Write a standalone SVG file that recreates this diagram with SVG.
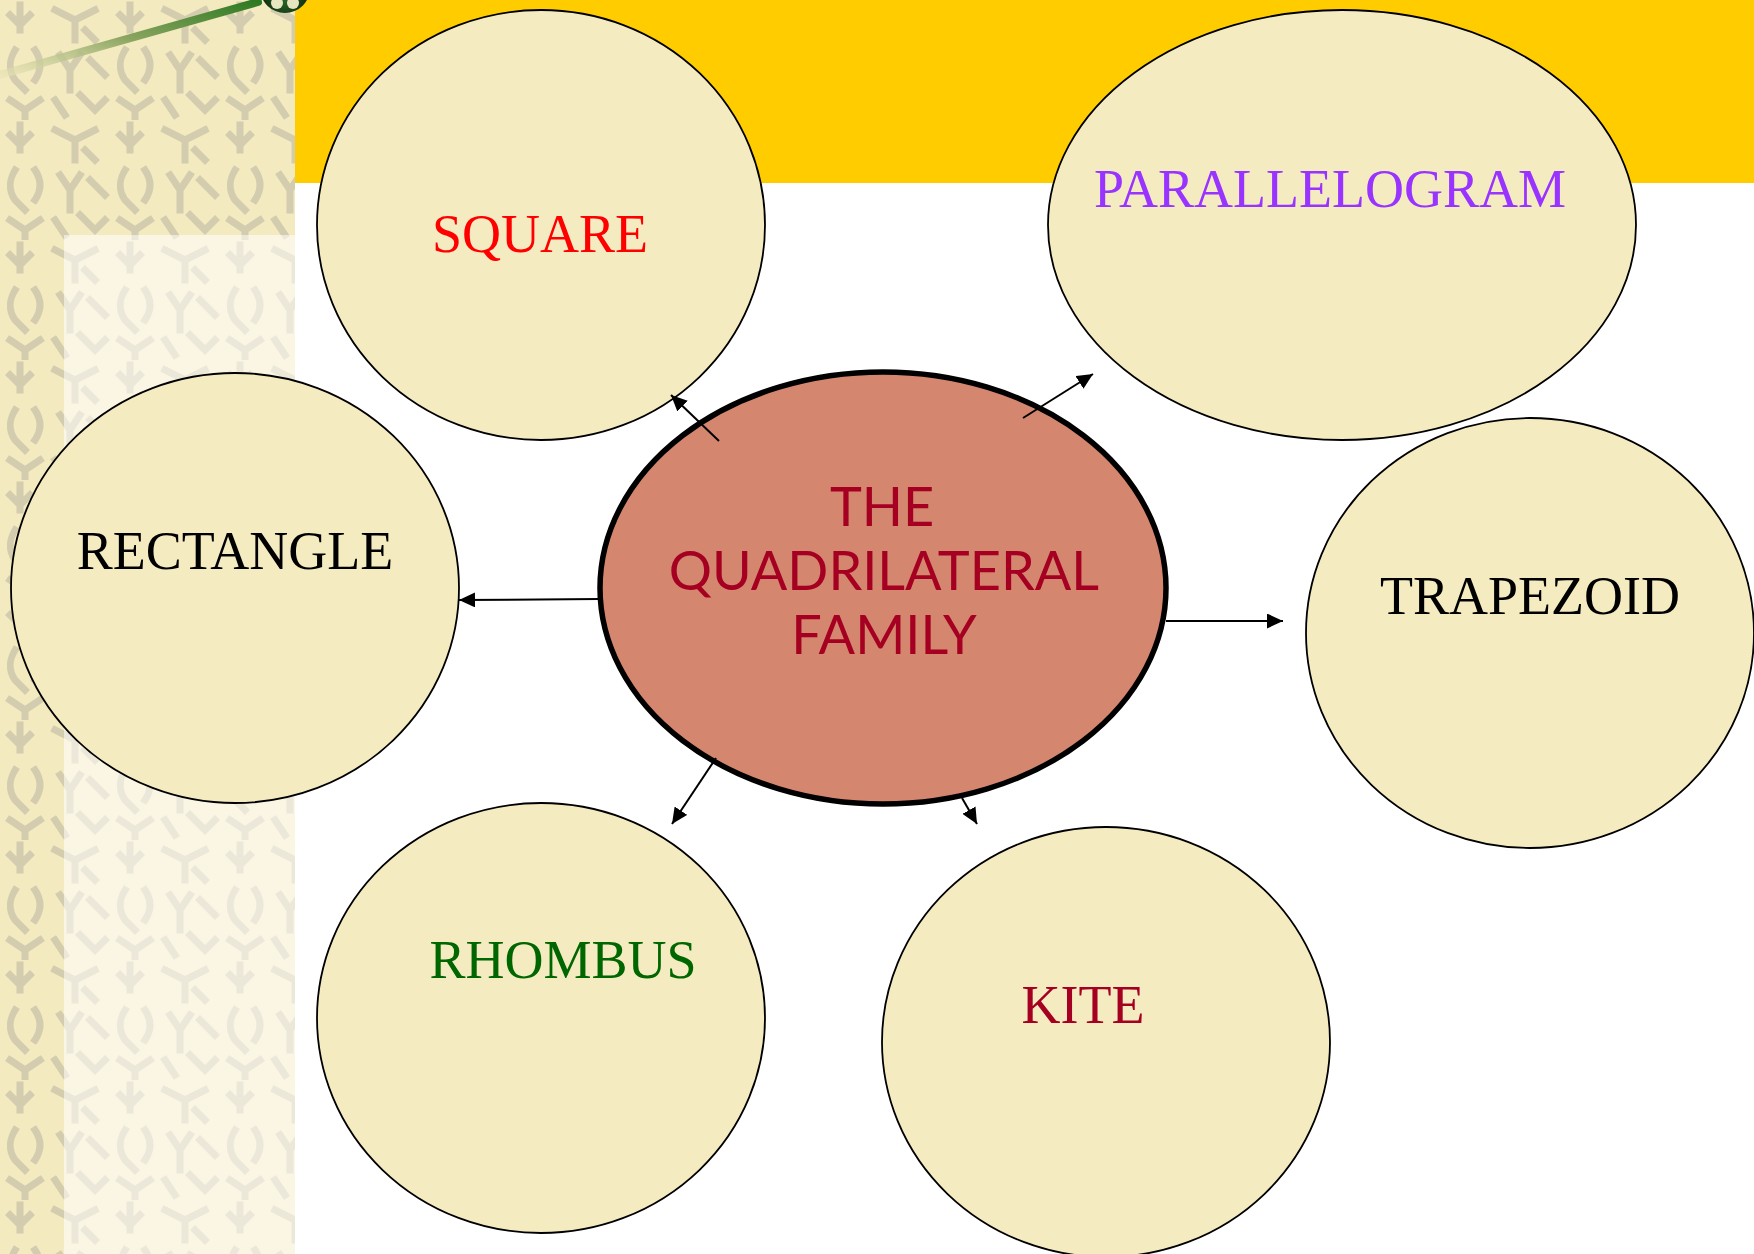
<svg xmlns="http://www.w3.org/2000/svg" width="1754" height="1254" viewBox="0 0 1754 1254">
<defs>
<style>
.node{fill:#F4EBC1;stroke:#000;stroke-width:1.8}
.lbl{font-family:"Liberation Serif","Times New Roman",serif;font-size:54px;text-anchor:middle}
.conn{stroke:#000;stroke-width:2;fill:none;marker-end:url(#ah)}
.tw{fill:none;stroke:#D3CCAE;stroke-width:7;stroke-linecap:square;stroke-linejoin:miter}
</style>
<marker id="ah" viewBox="0 0 16 15" refX="16" refY="7.5" markerWidth="16" markerHeight="15" markerUnits="userSpaceOnUse" orient="auto">
<path d="M0,0 L16,7.5 L0,15 z" fill="#000"/>
</marker>
<pattern id="twigs" x="0" y="0" width="110" height="120" patternUnits="userSpaceOnUse">
<rect width="110" height="120" fill="#F3EAC0"/>
<path class="tw" d="M20,5 L20,30 M10,15 L20,25 L30,15 M55,10 L75,20 L95,10 M75,20 L75,40 M85,30 L95,40"/>
<path class="tw" d="M15,50 Q5,65 15,80 L25,90 M35,50 Q45,65 35,80 M60,55 L70,70 L80,55 M70,70 L70,90 M90,60 L105,75"/>
<path class="tw" d="M10,100 L25,110 L40,100 M25,110 L25,118 M55,100 L65,115 M80,95 L95,110 L105,100"/>
</pattern>
<linearGradient id="stick" x1="0" y1="1" x2="1" y2="0">
<stop offset="0" stop-color="#E9E3B5" stop-opacity="0.6"/>
<stop offset="0.5" stop-color="#8AA560"/>
<stop offset="1" stop-color="#2E7A22"/>
</linearGradient>
<radialGradient id="ball" cx="0.5" cy="0.7" r="0.6">
<stop offset="0" stop-color="#2D6B2A"/>
<stop offset="1" stop-color="#061A06"/>
</radialGradient>
</defs>
<rect width="1754" height="1254" fill="#FFFFFF"/>
<g id="background">
<rect x="0" y="0" width="295" height="1254" fill="url(#twigs)"/>
<rect x="64" y="235" width="231" height="1019" fill="#FFFFFF" opacity="0.55"/>
<rect x="295" y="0" width="1459" height="183" fill="#FFCC00"/>
<path d="M0,75 L258,2" stroke="url(#stick)" stroke-width="8" stroke-linecap="round"/>
<circle cx="285" cy="-12" r="25" fill="url(#ball)"/>
<circle cx="277" cy="3" r="6" fill="#E8E6C0"/>
<circle cx="293" cy="3" r="6" fill="#E8E6C0"/>
</g>
<g id="node-square">
<ellipse class="node" cx="541" cy="225" rx="224" ry="215"/>
<text class="lbl" x="540" y="252" fill="#FF0000">SQUARE</text>
</g>
<g id="node-parallelogram">
<ellipse class="node" cx="1342" cy="225" rx="294" ry="215"/>
<text class="lbl" x="1330" y="207" fill="#9933FF">PARALLELOGRAM</text>
</g>
<g id="node-rectangle">
<ellipse class="node" cx="235" cy="588" rx="224" ry="215"/>
<text class="lbl" x="235" y="569" fill="#000000">RECTANGLE</text>
</g>
<g id="node-trapezoid">
<ellipse class="node" cx="1530" cy="633" rx="224" ry="215"/>
<text class="lbl" x="1530" y="614" fill="#000000">TRAPEZOID</text>
</g>
<g id="node-rhombus">
<ellipse class="node" cx="541" cy="1018" rx="224" ry="215"/>
<text class="lbl" x="563" y="978" fill="#006600">RHOMBUS</text>
</g>
<g id="node-kite">
<ellipse class="node" cx="1106" cy="1042" rx="224" ry="215"/>
<text class="lbl" x="1083" y="1023" fill="#A50021">KITE</text>
</g>
<g id="node-center">
<ellipse cx="883" cy="588" rx="283" ry="216" fill="#D4866E" stroke="#000" stroke-width="5.5"/>
<text font-family="Lato,'Open Sans',sans-serif" font-size="54" fill="#A50021" text-anchor="middle">
<tspan x="889" y="526">THE</tspan>
<tspan x="890" y="590">QUADRILATERAL</tspan>
<tspan x="884" y="654">FAMILY</tspan>
</text>
</g>
<g id="connectors">
<line class="conn" x1="719" y1="441" x2="671" y2="395"/>
<line class="conn" x1="1023" y1="418" x2="1093" y2="374"/>
<line class="conn" x1="600" y1="599" x2="459" y2="600"/>
<line class="conn" x1="1166" y1="621" x2="1283" y2="621"/>
<line class="conn" x1="716" y1="758" x2="672" y2="824"/>
<line class="conn" x1="962" y1="798" x2="977" y2="824"/>
</g>
</svg>
